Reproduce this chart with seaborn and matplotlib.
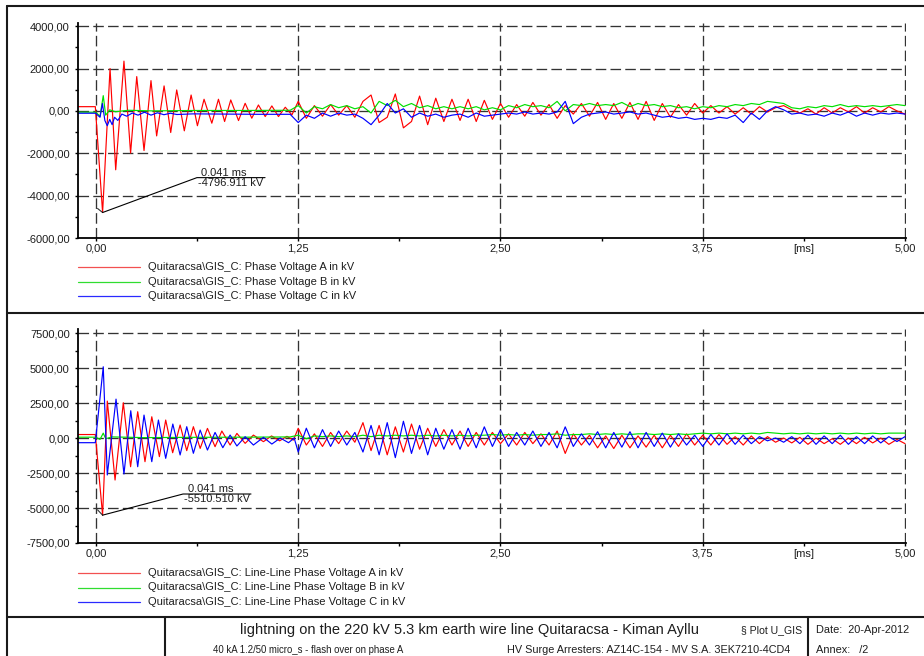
import numpy as np
import pandas as pd
import matplotlib
matplotlib.use("Agg")
import matplotlib.pyplot as plt
from matplotlib.lines import Line2D
import seaborn as sns

# ---------------------------------------------------------------------------
# Data: time in ms, voltage in kV
# Early part (onset + ring-down) with explicit sample times, later part on a
# 0.05 ms grid starting at 1.25 ms.
# ---------------------------------------------------------------------------
LATE_T0 = 1.25
LATE_DT = 0.05

# ---- Phase voltages ----
PH_A_T = [-0.111, -0.004, 0.041, 0.087, 0.122, 0.173, 0.214, 0.252, 0.297, 0.340,
          0.375, 0.421, 0.462, 0.499, 0.546, 0.588, 0.627, 0.668, 0.716, 0.757,
          0.795, 0.833, 0.881, 0.922, 0.963, 1.004, 1.046, 1.087, 1.128, 1.170, 1.211]
PH_A_V = [200, 200, -4796.911, 2000, -2780, 2350, -1990, 1620, -1870, 1430,
          -1180, 1180, -1020, 990, -940, 750, -700, 550, -580, 550,
          -500, 517, -455, 360, -345, 280, -267, 235, -267, 173, -188]
PH_A_LATE = [450, -350, 250, -250, 300, -200, 250, -300, 450, 750,
             -550, -300, 800, -800, -500, 700, -650, 600, -500, 550,
             -450, 550, -500, 500, -400, 350, -300, 300, -250, 400,
             -200, 300, -350, 250, -150, 350, -250, 400, -400, 350,
             -350, 400, -400, 450, -450, 350, -300, 300, -200, 350,
             -100, 250, -100, 200, -150, 150, -150, 200, -50, 150,
             250, 50, -100, 100, -150, 150, -100, 150, -50, 200,
             -100, 150, -50, 200, 0, -150]

PH_B_T = [-0.111, -0.002, 0.025, 0.045, 0.060, 0.085, 0.120, 0.200, 0.350, 0.600, 0.900, 1.200]
PH_B_V = [-60, -60, -250, 720, -200, 50, -40, 30, 0, 20, 20, 30]
PH_B_LATE = [250, -100, 200, 100, 300, 150, 250, 100, 200, -100,
             450, 250, 500, 200, 350, 150, 250, 100, 200, 100,
             200, 100, 200, 50, 150, 50, 250, 150, 300, 200,
             250, 150, 450, 0, 300, 250, 350, 250, 300, 250,
             400, 200, 350, 250, 300, 200, 250, 150, 200, 100,
             200, 150, 250, 200, 300, 250, 350, 300, 450, 400,
             350, 150, 100, 200, 150, 250, 200, 300, 200, 250,
             200, 250, 200, 250, 300, 250]

PH_C_T = [-0.111, -0.002, 0.025, 0.040, 0.055, 0.070, 0.085, 0.100, 0.115, 0.135,
          0.160, 0.190, 0.225, 0.260, 0.300, 0.340, 0.380, 0.420, 0.460, 0.500,
          0.600, 0.800, 1.000, 1.200]
PH_C_V = [-110, -110, -300, 350, -450, -700, -400, -650, -300, -450,
          -150, -250, -100, -200, -60, -200, -90, -180, -110, -170,
          -140, -150, -160, -160]
PH_C_LATE = [-550, -200, -350, -100, -250, -100, -200, -150, -350, -650,
             -200, 350, -100, 100, -300, -100, -250, -150, -300, -200,
             -150, -300, -100, -250, -200, -150, -100, -150, -50, -150,
             -100, -150, -50, 450, -600, -300, -150, -100, -50, -150,
             -100, -50, -150, -100, -200, -300, -250, -350, -300, -400,
             -350, -400, -300, -350, -200, -550, -100, -400, 0, 200,
             50, -150, -100, -200, -150, -250, -100, -200, -50, -250,
             -100, -200, -100, -150, -100, -150]

# ---- Line-line voltages ----
LL_A_T = [-0.111, -0.004, 0.041, 0.070, 0.118, 0.169, 0.214, 0.258, 0.303, 0.345,
          0.392, 0.431, 0.474, 0.520, 0.561, 0.602, 0.644, 0.689, 0.736, 0.778,
          0.829, 0.871, 0.922, 0.973, 1.035, 1.085, 1.135, 1.180, 1.220]
LL_A_V = [250, 250, -5510.51, 2640, -3000, 2520, -2050, 1880, -1690, 1520,
          -1330, 1285, -1050, 930, -900, 810, -740, 690, -620, 500,
          -500, 330, -380, 210, -260, 150, -200, 120, -150]
LL_A_LATE = [700, -500, 300, -600, 400, -400, 500, -300, 1100, -900,
             900, -1200, 800, -1000, 1000, -800, 700, -600, 600, -500,
             500, -600, 400, -500, 400, -400, 300, -500, 400, -400,
             300, -500, 500, -1100, 300, -500, 200, -700, 150, -750,
             200, -700, 150, -650, 200, -700, 200, -600, 300, -500,
             200, -500, 250, -450, 100, -500, 150, -400, 100, -300,
             0, -350, 50, -450, 0, -400, -50, -450, 0, -400,
             50, -350, 0, -450, -100, -400]

LL_B_T = [-0.111, -0.002, 0.025, 0.045, 0.060, 0.100, 0.300, 0.600, 0.900, 1.200]
LL_B_V = [60, 60, -100, 350, -50, 80, 30, 50, 60, 80]
LL_B_LATE = [200, -50, 150, 100, 150, 100, 150, 100, 200, 100,
             200, 150, 200, 150, 200, 150, 200, 150, 200, 150,
             200, 150, 200, 200, 250, 200, 250, 200, 250, 200,
             250, 250, 300, 200, 250, 250, 300, 250, 300, 250,
             300, 250, 300, 300, 250, 300, 250, 300, 250, 300,
             350, 300, 350, 300, 350, 300, 350, 300, 400, 350,
             300, 350, 300, 350, 300, 350, 300, 350, 300, 350,
             300, 350, 300, 350, 350, 350]

LL_C_T = [-0.111, -0.004, 0.045, 0.070, 0.124, 0.173, 0.215, 0.258, 0.297, 0.345,
          0.386, 0.431, 0.475, 0.520, 0.561, 0.602, 0.644, 0.689, 0.736, 0.784,
          0.829, 0.871, 0.922, 0.973, 1.035, 1.087, 1.139, 1.190, 1.225]
LL_C_V = [-333, -333, 5090, -2640, 2780, -2570, 1950, -2050, 1640, -1690,
          1285, -1450, 1000, -1210, 810, -1090, 570, -860, 400, -690,
          214, -570, 95, -500, 48, -430, 0, -333, 0]
LL_C_LATE = [-1000, 700, -700, 600, -600, 500, -500, 400, -1000, 900,
             -1200, 1100, -1400, 1200, -1100, 900, -1200, 700, -800, 600,
             -800, 700, -700, 800, -600, 600, -600, 400, -500, 500,
             -600, 400, -700, 800, -600, 300, -500, 450, -700, 400,
             -650, 450, -700, 400, -600, 350, -650, 300, -500, 200,
             -600, 250, -500, 300, -450, 200, -400, 100, -200, 0,
             -300, 100, -400, 200, -450, 150, -400, 200, -450, 100,
             -400, 150, -350, 100, -250, 100]

TOP_LABELS = [r"Quitaracsa\GIS_C: Phase Voltage A in kV",
              r"Quitaracsa\GIS_C: Phase Voltage B in kV",
              r"Quitaracsa\GIS_C: Phase Voltage C in kV"]
BOT_LABELS = [r"Quitaracsa\GIS_C: Line-Line Phase Voltage A in kV",
              r"Quitaracsa\GIS_C: Line-Line Phase Voltage B in kV",
              r"Quitaracsa\GIS_C: Line-Line Phase Voltage C in kV"]
COLORS = ["#ff0000", "#00e000", "#0000ff"]
LEGEND_COLORS = ["#f25050", "#30dd30", "#2a2aff"]

X_TICKS = [0, 0.625, 1.25, 1.875, 2.5, 3.125, 3.75, 4.375, 5.0]
X_TICK_LABELS = ["0,00", "", "1,25", "", "2,50", "", "3,75", "[ms]", "5,00"]
X_GRID = [0, 1.25, 2.5, 3.75, 5.0]

TOP_Y_TICKS = list(range(-6000, 4001, 1000))
TOP_Y_GRID = [-4000, -2000, 0, 2000, 4000]
BOT_Y_TICKS = list(range(-7500, 7501, 1250))
BOT_Y_GRID = [-5000, -2500, 0, 2500, 5000, 7500]


def build_frame(labels, series):
    parts = []
    for name, (t_e, v_e, v_l) in zip(labels, series):
        t = list(t_e) + [LATE_T0 + LATE_DT * i for i in range(len(v_l))]
        v = list(v_e) + list(v_l)
        parts.append(pd.DataFrame({"t": t, "v": v, "trace": name}))
    return pd.concat(parts, ignore_index=True)


df_top = build_frame(TOP_LABELS, [(PH_A_T, PH_A_V, PH_A_LATE),
                                  (PH_B_T, PH_B_V, PH_B_LATE),
                                  (PH_C_T, PH_C_V, PH_C_LATE)])
df_bot = build_frame(BOT_LABELS, [(LL_A_T, LL_A_V, LL_A_LATE),
                                  (LL_B_T, LL_B_V, LL_B_LATE),
                                  (LL_C_T, LL_C_V, LL_C_LATE)])

# ---------------------------------------------------------------------------
sns.set_theme(style="white")
plt.rcParams["font.family"] = ["Liberation Sans", "DejaVu Sans"]
TXT = "#1e1e1e"

W, H = 924, 656
fig = plt.figure(figsize=(W / 100, H / 100), dpi=100)
fig.patch.set_facecolor("white")


def rect(x0, y0, x1, y1):
    return [x0 / W, 1 - y1 / H, (x1 - x0) / W, (y1 - y0) / H]


def fx(x):
    return x / W


def fy(y):
    return 1 - y / H


def fig_line(xs, ys, lw=1.5, color="#1a1a1a"):
    fig.add_artist(Line2D([fx(x) for x in xs], [fy(y) for y in ys],
                          transform=fig.transFigure, lw=lw, color=color))


def style_axes(ax, yticks, ygrid, ylim, fmt_every):
    ax.set_xlim(-0.111, 5.006)
    ax.set_ylim(*ylim)
    for s in ("top", "right"):
        ax.spines[s].set_visible(False)
    for s in ("left", "bottom"):
        ax.spines[s].set_color("black")
        ax.spines[s].set_linewidth(1.3)
    ax.set_xticks(X_TICKS)
    ax.set_xticklabels(X_TICK_LABELS)
    ax.set_yticks(yticks)
    ax.set_yticklabels([f"{v:.2f}".replace(".", ",") if v % fmt_every == 0 else ""
                        for v in yticks])
    ax.tick_params(axis="both", direction="out", length=2.5, width=1.0,
                   color="black", labelsize=8, labelcolor=TXT)
    ax.tick_params(axis="x", pad=1.5)
    ax.tick_params(axis="y", pad=3.5)
    ax.tick_params(left=True, bottom=True)
    for g in X_GRID:
        ax.axvline(g, color="#333333", lw=0.95, ls=(0, (8, 3.2)), zorder=1)
    for g in ygrid:
        ax.axhline(g, color="#333333", lw=0.95, ls=(0, (8, 3.2)), zorder=1)
    ax.set_xlabel("")
    ax.set_ylabel("")
    ax.set_facecolor("white")


def draw_traces(ax, df, labels):
    sns.lineplot(data=df, x="t", y="v", hue="trace", hue_order=labels,
                 palette=dict(zip(labels, COLORS)), estimator=None, sort=False,
                 legend=False, linewidth=0.85, ax=ax, zorder=2)
    for ln in ax.get_lines():
        ln.set_solid_joinstyle("round")


def draw_legend(labels, ys):
    for lab, col, y in zip(labels, LEGEND_COLORS, ys):
        fig_line([78, 140], [y, y], lw=0.9, color=col)
        fig.text(fx(148), fy(y), lab, fontsize=8, color=TXT, va="center", ha="left")


def marker_label(ax, t, v, knee_t, knee_v, end_t, tick_dt, tick_dv, txt_t1, txt_t2):
    ax.plot([t - tick_dt, t], [v + tick_dv, v], color="#303030", lw=0.8, zorder=3)
    ax.plot([t, knee_t, end_t], [v, knee_v, knee_v], color="black", lw=0.8, zorder=3)
    ax.text(txt_t1, knee_v, f"{t:.3f} ms", fontsize=8, color=TXT, va="bottom", ha="left")
    ax.text(txt_t2, knee_v, f"{v:.3f} kV", fontsize=8, color=TXT, va="top", ha="left")


# ---- top panel: phase voltages ----
ax1 = fig.add_axes(rect(78, 23, 906, 238))
draw_traces(ax1, df_top, TOP_LABELS)
style_axes(ax1, TOP_Y_TICKS, TOP_Y_GRID, (-6000, 4150), 2000)
marker_label(ax1, PH_A_T[2], PH_A_V[2], 0.624, -3150, 1.045,
             0.031, 190, 0.650, 0.630)
draw_legend(TOP_LABELS, [267, 281.5, 296])

# ---- bottom panel: line-line voltages ----
ax2 = fig.add_axes(rect(78, 329, 906, 543))
draw_traces(ax2, df_bot, BOT_LABELS)
style_axes(ax2, BOT_Y_TICKS, BOT_Y_GRID, (-7500, 7790), 2500)
marker_label(ax2, LL_A_T[2], LL_A_V[2], 0.538, -4000, 0.958,
             0.031, 380, 0.570, 0.542)
draw_legend(BOT_LABELS, [573, 587.5, 602])

# ---- sheet frame and title block ----
fig_line([7, 924], [6, 6])
fig_line([7, 7], [6, 656])
fig_line([7, 924], [313, 313])
fig_line([7, 924], [617, 617])
fig_line([165, 165], [617, 656])
fig_line([808, 808], [617, 656])

fig.text(fx(240), fy(630), "lightning on the 220 kV 5.3 km earth wire line Quitaracsa - Kiman Ayllu",
         fontsize=10.5, color=TXT, va="center", ha="left")
fig.text(fx(741), fy(630), "§ Plot U_GIS", fontsize=7.6, color=TXT, va="center", ha="left")
fig.text(fx(816), fy(630), "Date:  20-Apr-2012", fontsize=7.9, color=TXT, va="center", ha="left")
fig.text(fx(213), fy(650), "40 kA 1.2/50 micro_s - flash over on phase A",
         fontsize=6.9, color=TXT, va="center", ha="left")
fig.text(fx(507), fy(650), "HV Surge Arresters: AZ14C-154 - MV S.A. 3EK7210-4CD4",
         fontsize=7.8, color=TXT, va="center", ha="left")
fig.text(fx(816), fy(650), "Annex:   /2", fontsize=7.9, color=TXT, va="center", ha="left")

fig.savefig("out.png", dpi=100, facecolor="white")
